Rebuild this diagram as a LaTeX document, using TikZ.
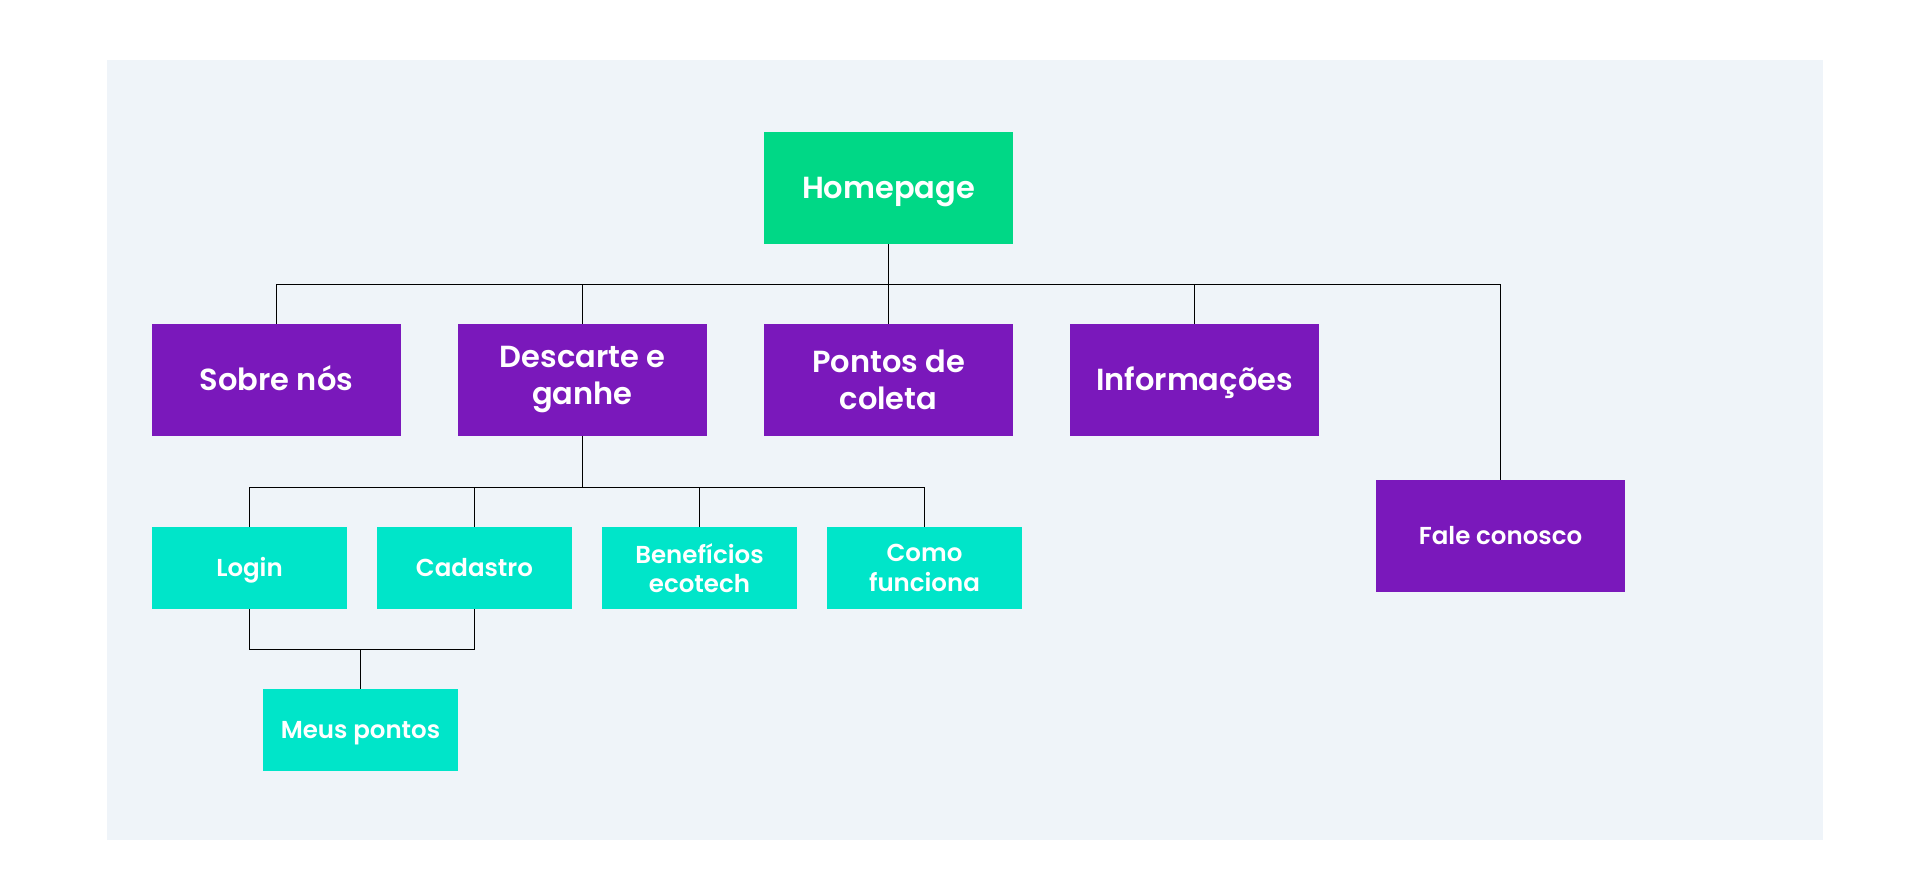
\documentclass[tikz,border=0pt]{standalone}
\usepackage{fontspec}
\setmainfont{Poppins SemiBold}
\definecolor{panelbg}{HTML}{EFF4F9}
\definecolor{homegreen}{HTML}{00D886}
\definecolor{mainpurple}{HTML}{7A18BB}
\definecolor{subteal}{HTML}{00E5C9}
\begin{document}
\begin{tikzpicture}[x=1pt,y=-1pt,
  bigbox/.style={minimum width=249pt, minimum height=112pt, inner sep=0pt, text=white,
    font=\fontsize{30.5}{37}\selectfont},
  smallbox/.style={minimum width=195pt, minimum height=82pt, inner sep=0pt, text=white,
    font=\fontsize{24.5}{29.5}\selectfont, fill=subteal},
  onebig/.style={text height=21.3pt, text depth=0pt},
  onesmall/.style={text height=17.1pt, text depth=0pt},
  twoline/.style={align=center},
  link/.style={draw=black, line width=1.2pt}]
\useasboundingbox (0,0) rectangle (1920,895);
\fill[white] (0,0) rectangle (1920,895);
\fill[panelbg] (107,60) rectangle (1823,840);

\node[bigbox, onebig, fill=homegreen] (home) at (888.5,188) {Homepage};
\node[bigbox, onebig, fill=mainpurple] (sobre) at (276.5,380) {Sobre nós};
\node[bigbox, twoline, fill=mainpurple] (desc) at (582.5,380) {Descarte e\\ganhe};
\node[bigbox, twoline, fill=mainpurple] (pontos) at (888.5,380) {Pontos de\\coleta};
\node[bigbox, onebig, fill=mainpurple] (info) at (1194.5,380) {Informações};
\node[bigbox, fill=mainpurple, font=\fontsize{24.5}{29.5}\selectfont, onesmall] (fale) at (1500.5,536) {Fale conosco};

\node[smallbox, onesmall] (login) at (249.5,568) {Login};
\node[smallbox, onesmall] (cad) at (474.5,568) {Cadastro};
\node[smallbox, twoline] (benef) at (699.5,568) {Benefícios\\ecotech};
\node[smallbox, twoline] (como) at (924.5,568) {Como\\funciona};
\node[smallbox, onesmall] (meus) at (360.5,730) {Meus pontos};

\coordinate (bus) at (0,284.5);
\coordinate (subbus) at (0,487.5);
\coordinate (lowbus) at (0,649.5);

\draw[link] (home.south) -- (home.south |- bus);
\draw[link] (sobre.north) |- (fale.north |- bus) -- (fale.north);
\draw[link] (desc.north) -- (desc.north |- bus);
\draw[link] (pontos.north) -- (pontos.north |- bus);
\draw[link] (info.north) -- (info.north |- bus);

\draw[link] (desc.south) -- (desc.south |- subbus);
\draw[link] (login.north) |- (como.north |- subbus) -- (como.north);
\draw[link] (cad.north) -- (cad.north |- subbus);
\draw[link] (benef.north) -- (benef.north |- subbus);

\draw[link] (login.south) |- (cad.south |- lowbus) -- (cad.south);
\draw[link] (meus.north) -- (meus.north |- lowbus);
\end{tikzpicture}
\end{document}
